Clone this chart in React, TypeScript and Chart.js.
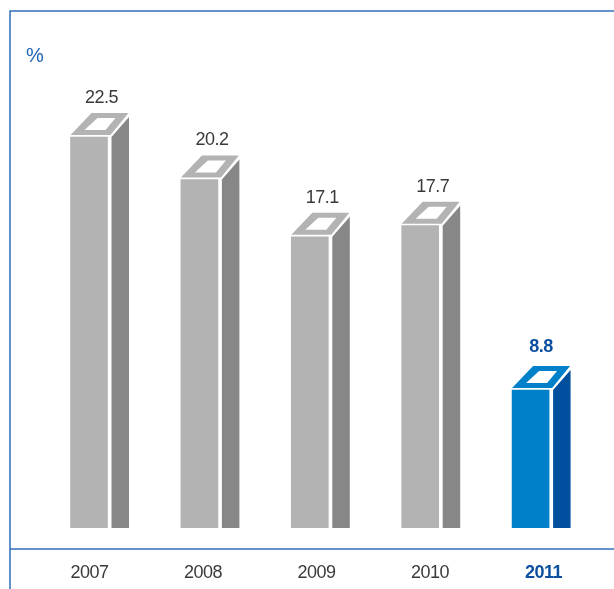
import React, { useEffect, useRef } from "react";
import { Chart, registerables } from "chart.js";

Chart.register(...registerables);

const years = ["2007", "2008", "2009", "2010", "2011"];
const rates = [22.5, 20.2, 17.1, 17.7, 8.8];
const highlightIndex = 4;
const axisFloor = 1.33;

const FRAME = "#2f6fb8";
const INK = "#3a3a3a";
const INK_BLUE = "#0b4f9e";
const FRONT = ["#b3b3b3", "#b3b3b3", "#b3b3b3", "#b3b3b3", "#0080c9"];
const SIDE = ["#878787", "#878787", "#878787", "#878787", "#004f9f"];

const polygon = (ctx: CanvasRenderingContext2D, pts: number[][], fill: string) => {
  ctx.beginPath();
  pts.forEach(([x, y], i) => (i ? ctx.lineTo(x, y) : ctx.moveTo(x, y)));
  ctx.closePath();
  ctx.fillStyle = fill;
  ctx.fill();
};

// Page frame: top rule, left rule and the rule above the year labels.
const framePlugin = {
  id: "frame",
  beforeDraw(chart: Chart) {
    const { ctx, width, height } = chart;
    // Tightens every label on the canvas, including the axis ticks.
    (ctx as any).letterSpacing = "-0.5px";
    ctx.save();
    ctx.strokeStyle = FRAME;
    ctx.lineWidth = 1.5;
    ctx.beginPath();
    ctx.moveTo(width, 11);
    ctx.lineTo(10, 11);
    ctx.lineTo(10, height);
    ctx.moveTo(10, 549);
    ctx.lineTo(width, 549);
    ctx.stroke();
    ctx.fillStyle = "#1f63b5";
    ctx.font = "20px 'Liberation Sans'";
    ctx.textBaseline = "middle";
    ctx.textAlign = "left";
    ctx.fillText("%", 26, 56);
    ctx.restore();
  },
};

// Extrudes each bar into a box with a hollow cap, and writes its value above.
const boxPlugin = {
  id: "box",
  afterDatasetsDraw(chart: Chart) {
    const { ctx } = chart;
    ctx.save();
    chart.getDatasetMeta(0).data.forEach((bar: any, i: number) => {
      const x0 = bar.x - bar.width / 2;
      const yt = bar.y;
      const yb = bar.base;
      polygon(ctx, [[x0 + 41, yt], [x0 + 58.5, yt - 20], [x0 + 58.5, yb], [x0 + 41, yb]], SIDE[i]);
      polygon(ctx, [[x0, yt - 2], [x0 + 40, yt - 2], [x0 + 58, yt - 24], [x0 + 21, yt - 24]], FRONT[i]);
      polygon(ctx, [[x0 + 14, yt - 7], [x0 + 35, yt - 7], [x0 + 45, yt - 19], [x0 + 27, yt - 19]], "#ffffff");
      const strong = i === highlightIndex;
      ctx.fillStyle = strong ? INK_BLUE : INK;
      ctx.font = `${strong ? "bold " : ""}18px 'Liberation Sans'`;
      ctx.textAlign = "center";
      ctx.textBaseline = "middle";
      ctx.fillText(rates[i].toFixed(1), x0 + (strong ? 29 : 31), yt - (strong ? 43 : 39));
    });
    ctx.restore();
  },
};

export default function App() {
  const ref = useRef<HTMLCanvasElement>(null);

  useEffect(() => {
    const chart = new Chart(ref.current!, {
      type: "bar",
      data: {
        labels: years,
        datasets: [
          {
            data: rates.map((y, x) => ({ x, y })),
            xAxisID: "bars",
            yAxisID: "y",
            base: axisFloor,
            backgroundColor: FRONT,
            barThickness: 37,
            borderWidth: 0,
          },
        ],
      },
      plugins: [framePlugin, boxPlugin],
      options: {
        responsive: false,
        animation: false,
        layout: { padding: { left: 32.75, right: 13.75, top: 12, bottom: 0 } },
        plugins: { legend: { display: false }, tooltip: { enabled: false } },
        scales: {
          // Visible year axis; its labels sit on a slightly wider pitch than the bars.
          x: {
            type: "category",
            position: "bottom",
            offset: true,
            grid: { display: false, drawTicks: false },
            border: { display: false },
            afterFit(scale: any) {
              scale.height = 61;
            },
            ticks: {
              padding: 34.5,
              maxRotation: 0,
              autoSkip: false,
              color: (c: any) => (c.index === highlightIndex ? INK_BLUE : INK),
              font: (c: any) => ({
                family: "'Liberation Sans'",
                size: 18,
                weight: c.index === highlightIndex ? "bold" : "normal",
              }),
            },
          },
          bars: {
            type: "linear",
            display: false,
            offset: false,
            min: -0.5095,
            max: 4.631,
          },
          y: {
            type: "linear",
            display: false,
            min: axisFloor,
            max: 29.27,
          },
        },
      },
    } as any);
    return () => chart.destroy();
  }, []);

  return (
    <canvas
      ref={ref}
      width={614}
      height={589}
      style={{ position: "absolute", left: 0, top: 0, display: "block", background: "#fff" }}
    />
  );
}
